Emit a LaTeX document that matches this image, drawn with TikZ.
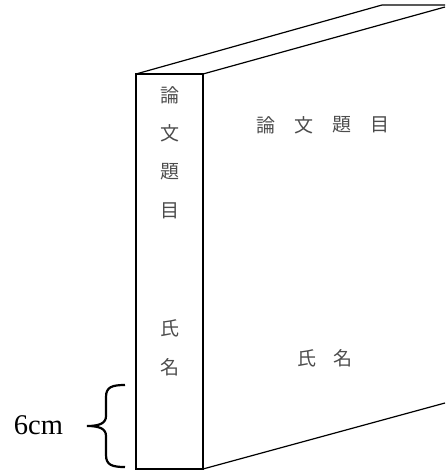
\documentclass[tikz,border=0pt]{standalone}
\usepackage{fontspec}
\setmainfont{Liberation Serif}
\newfontfamily\cjk{Noto Sans CJK JP}[Scale=1]
\tikzset{
  kanji/.style={inner sep=0pt,font=\cjk\fontsize{19}{19}\selectfont,text=black!70},
  thin edge/.style={black,line width=1.2pt},
  thick edge/.style={black,line width=2pt},
}
\begin{document}
\begin{tikzpicture}[x=1pt,y=1pt]
\useasboundingbox (0,0) rectangle (445,-470);
% corners of the book
\coordinate (backtop) at (382,-5);
\coordinate (backend) at (445,-5);
\coordinate (fronttop) at (445,-7);
\coordinate (frontlow) at (445,-403);
\coordinate (spinetl) at (136,-74);
\coordinate (spinetr) at (203,-74);
\coordinate (spinebr) at (203,-469);
\coordinate (spinebl) at (136,-469);
\draw [thin edge] (spinetl) -- (backtop) -- (backend);
\draw [thin edge] (spinetr) -- (fronttop);
\draw [thin edge] (spinebr) -- (frontlow);
\draw [thick edge] (spinetl) rectangle (spinebr);
% spine text
\node [kanji] (s1) at (170,-95) {論};
\node [kanji] (s2) at (170,-133) {文};
\node [kanji] (s3) at (170,-172) {題};
\node [kanji] (s4) at (170,-211) {目};
\node [kanji] (s5) at (170,-328) {氏};
\node [kanji] (s6) at (170,-367) {名};
% front text
\node [kanji] (f1) at (266,-125) {論};
\node [kanji] (f2) at (304,-125) {文};
\node [kanji] (f3) at (342,-125) {題};
\node [kanji] (f4) at (380,-125) {目};
\node [kanji] (f5) at (307,-358) {氏};
\node [kanji] (f6) at (343,-358) {名};
% brace and size
\coordinate (bracetop) at (125,-385);
\coordinate (bracetip) at (87,-426);
\coordinate (bracelow) at (125,-467);
\draw [black,line width=2.2pt] (bracetop) .. controls (112,-385) and (106,-387) .. (106,-397)
  -- (106,-416) .. controls (106,-423) and (100,-426) .. (bracetip)
  .. controls (100,-426) and (106,-429) .. (106,-436)
  -- (106,-455) .. controls (106,-465) and (112,-467) .. (bracelow);
\node [inner sep=0pt,anchor=base,font=\fontsize{28.5}{29}\selectfont] (size) at (38.5,-434) {6cm};
\end{tikzpicture}
\end{document}
